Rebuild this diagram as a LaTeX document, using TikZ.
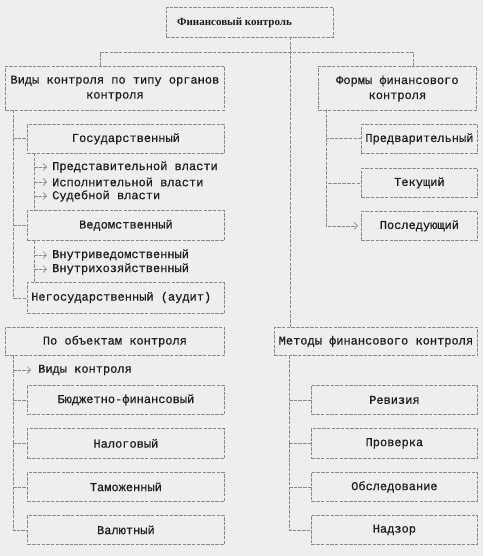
\documentclass[tikz,border=0pt]{standalone}
\usepackage{fontspec}
\setmainfont{Liberation Mono}[FakeBold=0.6]
\newfontfamily\titlefont{Liberation Serif}
\usetikzlibrary{arrows.meta}
\definecolor{bg}{HTML}{EEEEEE}
\definecolor{ln}{HTML}{8A8A8A}
\definecolor{tx}{HTML}{1E1E1E}
\tikzset{
  conn/.style={draw=ln, line width=0.8pt, dash pattern=on 3.5pt off 1.2pt},
  arr/.style={conn, -{Straight Barb[length=3.5pt,width=7pt,line width=0.7pt]}},
  box/.style={conn, text=tx, inner sep=0pt, anchor=north west, font=\fontsize{12}{15}\selectfont, align=center},
  item/.style={text=tx, inner sep=0pt, anchor=west, font=\fontsize{12}{15}\selectfont}
}
\begin{document}
\begin{tikzpicture}[x=1pt,y=-1pt]
\fill[bg] (0,0) rectangle (483,556);
\useasboundingbox (0,0) rectangle (483,556);
% boxes
\node[box, minimum width=167pt, minimum height=30pt] (top) at (166,7) {};
\node[text=tx, inner sep=0pt, anchor=west, font=\titlefont\fontsize{11}{13}\selectfont\bfseries] (toptext) at (177,23) {Финансовый контроль};
\node[box, minimum width=219pt, minimum height=44pt] (vid) at (5,66) {Виды контроля по типу органов\\контроля};
\node[box, minimum width=158pt, minimum height=44pt] (form) at (318,66) {Формы финансового\\контроля};
\node[box, minimum width=197pt, minimum height=29pt] (gos) at (27,124) {Государственный};
\node[box, minimum width=197pt, minimum height=30pt] (ved) at (27,210) {Ведомственный};
\node[box, minimum width=197pt, minimum height=31pt] (neg) at (27,282) {};
\node[item] (negt) at (31,297.5) {Негосударственный (аудит)};
\node[box, minimum width=116pt, minimum height=29pt] (pred) at (361,124) {Предварительный};
\node[box, minimum width=116pt, minimum height=29pt] (tek) at (361,168) {Текущий};
\node[box, minimum width=116pt, minimum height=29pt] (posl) at (361,211) {Последующий};
\node[box, minimum width=219pt, minimum height=28pt] (obj) at (5,327) {По объектам контроля};
\node[box, minimum width=203pt, minimum height=28pt] (met) at (274,327) {Методы финансового контроля};
\node[box, minimum width=197pt, minimum height=29pt] (bud) at (27,385) {Бюджетно-финансовый};
\node[box, minimum width=197pt, minimum height=30pt] (nal) at (27,428) {Налоговый};
\node[box, minimum width=197pt, minimum height=29pt] (tam) at (27,472) {Таможенный};
\node[box, minimum width=197pt, minimum height=29pt] (val) at (27,515) {Валютный};
\node[box, minimum width=166pt, minimum height=29pt] (rev) at (311,385) {Ревизия};
\node[box, minimum width=166pt, minimum height=30pt] (prov) at (311,428) {Проверка};
\node[box, minimum width=166pt, minimum height=29pt] (obs) at (311,472) {Обследование};
\node[box, minimum width=166pt, minimum height=29pt] (nad) at (311,515) {Надзор};
% sub items
\node[item] (s1) at (52,167) {Представительной власти};
\node[item] (s2) at (52,182) {Исполнительной власти};
\node[item] (s3) at (52,196) {Судебной власти};
\node[item] (s4) at (52,255) {Внутриведомственный};
\node[item] (s5) at (52,269) {Внутрихозяйственный};
\node[item] (s6) at (38,370) {Виды контроля};
% trunk coordinates
\coordinate (trunk) at (290,37);
\coordinate (hl) at (100,52);
\coordinate (hr) at (413,52);
\coordinate (vl) at (13,110);
\coordinate (sub) at (34,153);
\coordinate (fl) at (326,110);
\coordinate (ol) at (13,355);
\coordinate (ml) at (289,355);
% connectors
\draw[conn] (trunk) -- (met.north -| trunk);
\draw[conn] (vid.north -| hl) |- (hr) -- (form.north -| hr);
\draw[conn] (vl) |- (neg.west);
\draw[conn] (gos.west -| vl) -- (gos.west);
\draw[conn] (ved.west -| vl) -- (ved.west);
\draw[conn] (sub) -- (ved.north -| sub);
\draw[conn] (ved.south -| sub) -- (neg.north -| sub);
\foreach \s in {s1,s2,s3,s4,s5}{
  \draw[arr] (\s.west -| sub) -- ([xshift=-5pt]\s.west);
}
\draw[conn] (fl) |- (pred.west);
\draw[conn] (fl) |- (tek.west);
\draw[arr] (fl) |- ([xshift=-3pt]posl.west);
\draw[conn] (ol) |- (val.west);
\draw[arr] (s6.west -| ol) -- ([xshift=-7pt]s6.west);
\draw[conn] (bud.west -| ol) -- (bud.west);
\draw[conn] (nal.west -| ol) -- (nal.west);
\draw[conn] (tam.west -| ol) -- (tam.west);
\draw[conn] (ml) |- (nad.west);
\draw[conn] (rev.west -| ml) -- (rev.west);
\draw[conn] (prov.west -| ml) -- (prov.west);
\draw[conn] (obs.west -| ml) -- (obs.west);
\end{tikzpicture}
\end{document}
